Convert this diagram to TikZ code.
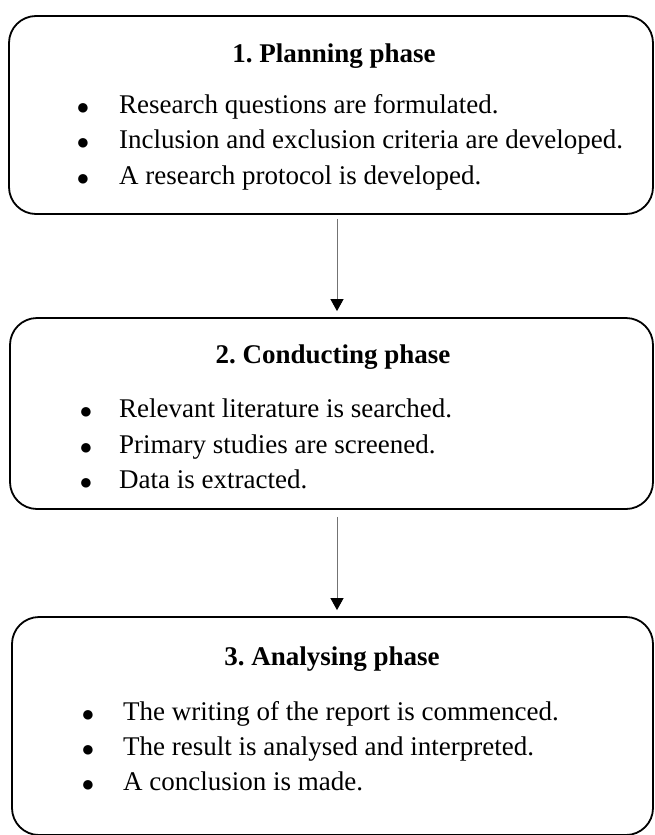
\documentclass[tikz,border=0pt]{standalone}
\usepackage{fontspec}
\setmainfont{Liberation Serif}
\usetikzlibrary{arrows.meta,calc}
\frenchspacing
\begin{document}
\begin{tikzpicture}[x=1pt,y=1pt,
  phasebox/.style={draw=black, line width=1.8pt, rounded corners=27pt, inner sep=0pt},
  titletext/.style={anchor=base, inner sep=0pt, font=\fontsize{27}{35}\selectfont\bfseries},
  itemtext/.style={anchor=base west, inner sep=0pt, font=\fontsize{27}{35}\selectfont},
  bullettext/.style={anchor=base, inner sep=0pt, yshift=-1pt, font=\fontsize{22}{22}\selectfont},
  flowarrow/.style={draw=black!55, line width=1pt, -{Triangle[width=13pt,length=12pt,black]}}]
\useasboundingbox (0,0) rectangle (655,-835);
% boxes
\node[phasebox, minimum width=644pt, minimum height=198pt] (box1) at (331,-115) {};
\node[phasebox, minimum width=643pt, minimum height=191pt] (box2) at (331.5,-413.5) {};
\node[phasebox, minimum width=641pt, minimum height=218pt] (box3) at (332.5,-726) {};
% box 1 text
\node[titletext] (t1) at (334,-62) {1. Planning phase};
\node[bullettext] (b11) at (83,-113) {●};
\node[bullettext] (b12) at (83,-148) {●};
\node[bullettext] (b13) at (83,-184) {●};
\node[itemtext] (i11) at (119,-113) {Research questions are formulated.};
\node[itemtext] (i12) at (119,-148) {Inclusion and exclusion criteria are developed.};
\node[itemtext] (i13) at (119,-184) {A research protocol is developed.};
% box 2 text
\node[titletext] (t2) at (333,-363) {2. Conducting phase};
\node[bullettext] (b21) at (86,-417) {●};
\node[bullettext] (b22) at (86,-453) {●};
\node[bullettext] (b23) at (86,-488) {●};
\node[itemtext] (i21) at (119,-417) {Relevant literature is searched.};
\node[itemtext] (i22) at (119,-453) {Primary studies are screened.};
\node[itemtext] (i23) at (119,-488) {Data is extracted.};
% box 3 text
\node[titletext] (t3) at (332,-665) {3. Analysing phase};
\node[bullettext] (b31) at (88,-720) {●};
\node[bullettext] (b32) at (88,-755) {●};
\node[bullettext] (b33) at (88,-790) {●};
\node[itemtext] (i31) at (123,-720) {The writing of the report is commenced.};
\node[itemtext] (i32) at (123,-755) {The result is analysed and interpreted.};
\node[itemtext] (i33) at (123,-790) {A conclusion is made.};
% arrows
\draw[flowarrow] ($(box1.south)+(6,-4)$) -- ($(box2.north)+(5.5,6)$);
\draw[flowarrow] ($(box2.south)+(5.5,-7)$) -- ($(box3.north)+(4.5,6)$);
\end{tikzpicture}
\end{document}
